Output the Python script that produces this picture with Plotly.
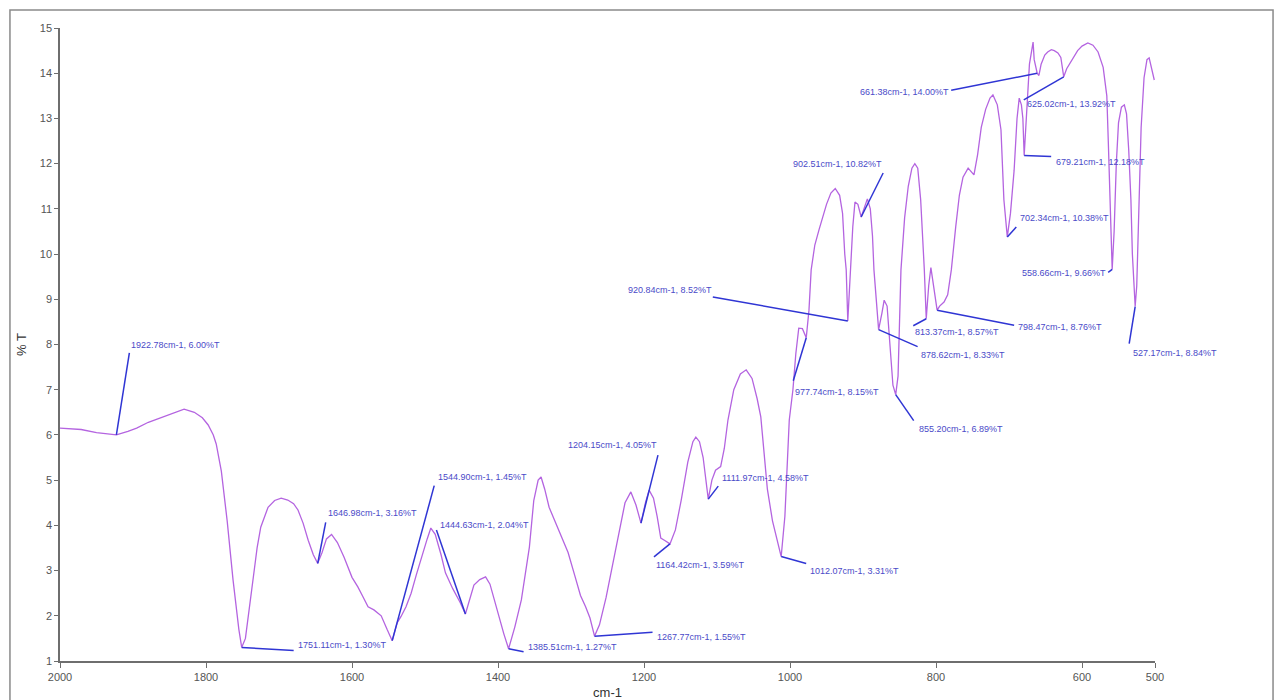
import plotly.graph_objects as go

# IR transmittance spectrum, wavenumber (cm-1) vs %T
wavenumber = [
    2000, 1985, 1971, 1950, 1935, 1922.78, 1907, 1895, 1879, 1865, 1852, 1840, 1830, 1816, 1805,
    1797, 1790, 1786, 1779, 1771, 1763, 1755, 1751.11, 1746, 1738, 1730, 1725, 1715, 1706, 1697,
    1688, 1680, 1674, 1667, 1660, 1653, 1646.98, 1641, 1635, 1628, 1620, 1611, 1600, 1592, 1585,
    1578, 1570, 1560, 1552, 1544.90, 1538, 1533, 1526, 1519, 1512, 1505, 1497, 1492, 1486, 1478,
    1472, 1462, 1452, 1444.63, 1438, 1433, 1425, 1417, 1411, 1405, 1398, 1392, 1385.51, 1377, 1368,
    1357, 1351, 1345, 1341, 1336, 1330, 1322, 1313, 1304, 1295, 1287, 1280, 1274, 1267.77, 1261,
    1252, 1242, 1234, 1226, 1218, 1211, 1204.15, 1198, 1193, 1187, 1182, 1177, 1171, 1164.42, 1157,
    1149, 1140, 1133, 1129, 1124, 1119, 1115, 1111.97, 1107, 1102, 1095, 1090, 1085, 1077, 1068,
    1060, 1052, 1045, 1040, 1036, 1031, 1024, 1017, 1012.07, 1007, 1004, 1001, 996, 992, 988,
    983, 977.74, 974, 971, 966, 960, 955, 950, 944, 938, 932, 928, 925, 923, 920.84,
    917, 914, 911, 907, 902.51, 898, 894, 890, 887, 885, 881, 878.62, 874, 871, 867,
    863, 859, 855.20, 852, 848, 843, 838, 833, 829, 825, 821, 818, 816, 813.37, 810,
    807, 803, 800, 798.47, 795, 789, 784, 779, 773, 768, 763, 756, 748, 743, 738,
    732, 726, 722, 716, 711, 707, 702.34, 698, 693, 689, 686, 683, 681, 679.21, 677,
    674, 672, 667, 665.5, 661.38, 659, 656, 651, 647, 642, 638, 633, 629, 625.02, 621,
    615, 610, 606, 600, 592, 585, 578, 571, 566, 564, 562, 560, 558.66, 556, 553,
    550, 546, 542, 539, 536, 533, 531, 529, 527.17, 525, 522, 519, 515, 511, 508,
    505, 501,
]
transmittance = [
    6.15, 6.13, 6.12, 6.05, 6.02, 6.00, 6.08, 6.15, 6.28, 6.36, 6.44, 6.52, 6.57, 6.50, 6.38,
    6.22, 6.00, 5.80, 5.20, 4.10, 2.80, 1.70, 1.30, 1.50, 2.50, 3.50, 3.96, 4.40, 4.55, 4.60,
    4.56, 4.48, 4.34, 4.05, 3.67, 3.35, 3.16, 3.40, 3.70, 3.80, 3.62, 3.30, 2.85, 2.64, 2.42,
    2.20, 2.13, 2.00, 1.70, 1.45, 1.85, 1.98, 2.20, 2.50, 2.90, 3.30, 3.70, 3.94, 3.80, 3.35,
    2.95, 2.60, 2.30, 2.04, 2.40, 2.68, 2.80, 2.86, 2.70, 2.35, 1.90, 1.60, 1.27, 1.75, 2.35,
    3.52, 4.55, 5.00, 5.07, 4.80, 4.40, 4.10, 3.75, 3.40, 2.90, 2.45, 2.20, 1.95, 1.55, 1.80,
    2.40, 3.20, 3.90, 4.50, 4.74, 4.45, 4.05, 4.50, 4.78, 4.60, 4.20, 3.72, 3.66, 3.59, 3.90,
    4.56, 5.40, 5.85, 5.95, 5.85, 5.50, 4.95, 4.58, 5.00, 5.22, 5.30, 5.70, 6.33, 7.00, 7.35,
    7.44, 7.25, 6.80, 6.40, 5.60, 4.80, 4.10, 3.60, 3.31, 4.20, 5.30, 6.33, 7.00, 7.80, 8.36,
    8.35, 8.15, 8.76, 9.65, 10.20, 10.55, 10.85, 11.10, 11.35, 11.45, 11.30, 10.90, 10.00, 9.65, 8.52,
    9.65, 10.60, 11.15, 11.10, 10.82, 11.05, 11.22, 11.00, 10.40, 9.65, 8.70, 8.33, 8.70, 8.98, 8.85,
    7.90, 7.10, 6.89, 7.30, 9.65, 10.80, 11.50, 11.90, 12.00, 11.90, 11.20, 10.40, 9.65, 8.57, 9.30,
    9.70, 9.30, 8.92, 8.76, 8.85, 8.94, 9.10, 9.65, 10.60, 11.30, 11.70, 11.90, 11.75, 12.20, 12.80,
    13.20, 13.45, 13.52, 13.30, 12.75, 11.20, 10.38, 10.90, 11.85, 13.00, 13.45, 13.30, 13.00, 12.18, 12.90,
    13.80, 14.20, 14.69, 14.30, 14.00, 13.95, 14.20, 14.40, 14.47, 14.52, 14.50, 14.45, 14.35, 13.92, 14.10,
    14.25, 14.40, 14.50, 14.60, 14.67, 14.62, 14.47, 14.13, 13.50, 12.50, 11.20, 10.20, 9.66, 10.50, 12.00,
    12.90, 13.25, 13.30, 13.10, 12.30, 11.20, 10.00, 9.20, 8.84, 9.30, 11.20, 12.80, 13.90, 14.30, 14.34,
    14.15, 13.85,
]

# Picked peaks
peak_wn = [1922.78, 1751.11, 1646.98, 1544.90, 1444.63, 1385.51, 1267.77, 1204.15,
           1164.42, 1111.97, 1012.07, 977.74, 920.84, 902.51, 878.62, 855.20,
           813.37, 798.47, 702.34, 679.21, 661.38, 625.02, 558.66, 527.17]
peak_t = [6.00, 1.30, 3.16, 1.45, 2.04, 1.27, 1.55, 4.05,
          3.59, 4.58, 3.31, 8.15, 8.52, 10.82, 8.33, 6.89,
          8.57, 8.76, 10.38, 12.18, 14.00, 13.92, 9.66, 8.84]

x_ticks = [2000, 1800, 1600, 1400, 1200, 1000, 800, 600, 500]
y_ticks = list(range(1, 16))

# Leader-line end (dx, dy) and label offset (tx, ty, anchor), in pixels from the peak
label_offsets = [
    (13, 82, 13, 90, "left"), (52, -3, 54, 2, "left"), (8, 41, 8, 50, "left"),
    (42, 155, 44, 164, "left"), (-29, 84, -27, 89, "left"), (15, -3, 17, 2, "left"),
    (58, 4, 60, -1, "left"), (17, 68, 18, 78, "right"), (-16, -13, -16, -21, "left"),
    (10, 13, 12, 21, "left"), (25, -7, 27, -14, "left"), (-13, -43, -13, -54, "left"),
    (-135, 24, -134, 31, "right"), (22, 44, 23, 53, "right"), (39, -17, 40, -25, "left"),
    (18, -26, 21, -34, "left"), (-13, -7, -13, -13, "left"), (77, -15, 79, -17, "left"),
    (9, 10, 11, 19, "left"), (27, -1, 30, -6, "left"), (-86, -17, -86, -19, "right"),
    (-40, -23, -39, -27, "left"), (-4, -3, -4, -4, "right"), (-6, -37, -4, -46, "left"),
]

CURVE = "#b464e0"
LEADER = "#2f35d4"
LABEL = "#4a4ac8"
AXIS = "#6e6e6e"

fig = go.Figure()
fig.add_trace(go.Scatter(
    x=wavenumber, y=transmittance, mode="lines",
    line=dict(color=CURVE, width=1.3), hoverinfo="x+y", showlegend=False,
))

shapes = []
annotations = []
for wn, t, (dx, dy, tx, ty, anchor) in zip(peak_wn, peak_t, label_offsets):
    shapes.append(dict(
        type="line", xref="x", yref="y",
        xsizemode="pixel", xanchor=wn, x0=0, x1=dx,
        ysizemode="pixel", yanchor=t, y0=0, y1=dy,
        line=dict(color=LEADER, width=1.5),
    ))
    annotations.append(dict(
        x=wn, y=t, xref="x", yref="y", showarrow=False,
        text=f"{wn:.2f}cm-1, {t:.2f}%T",
        xanchor=anchor, yanchor="middle", xshift=tx, yshift=ty,
        font=dict(family="Liberation Sans, Arial", size=9, color=LABEL),
    ))

# outer frame around the whole chart
shapes.append(dict(
    type="rect", xref="paper", yref="paper",
    x0=-0.0457, x1=1.1078, y0=-0.07, y1=1.0284,
    line=dict(color="#8a8a8a", width=1.5), fillcolor="rgba(0,0,0,0)", layer="below",
))

fig.update_layout(
    width=1277, height=700,
    margin=dict(l=60, r=122, t=28, b=39),
    paper_bgcolor="white", plot_bgcolor="white",
    shapes=shapes, annotations=annotations,
    font=dict(family="Liberation Sans, Arial", color="#555555"),
)
fig.update_xaxes(
    range=[2000, 500], tickvals=x_ticks, ticktext=[str(v) for v in x_ticks],
    showgrid=False, zeroline=False, showline=True, linecolor=AXIS, linewidth=1.5,
    ticks="outside", ticklen=5, tickcolor=AXIS, tickfont=dict(size=11, color="#555555"),
    title=dict(text="cm-1", font=dict(size=13, color="#333333"), standoff=6),
    automargin=False,
)
fig.update_yaxes(
    range=[1, 15], tickvals=y_ticks,
    showgrid=False, zeroline=False, showline=True, linecolor=AXIS, linewidth=1.5,
    ticks="outside", ticklen=4, tickcolor=AXIS, tickfont=dict(size=11, color="#555555"),
    title=dict(text="% T", font=dict(size=13, color="#333333"), standoff=10),
    automargin=False,
)

fig.write_html("out.html")
